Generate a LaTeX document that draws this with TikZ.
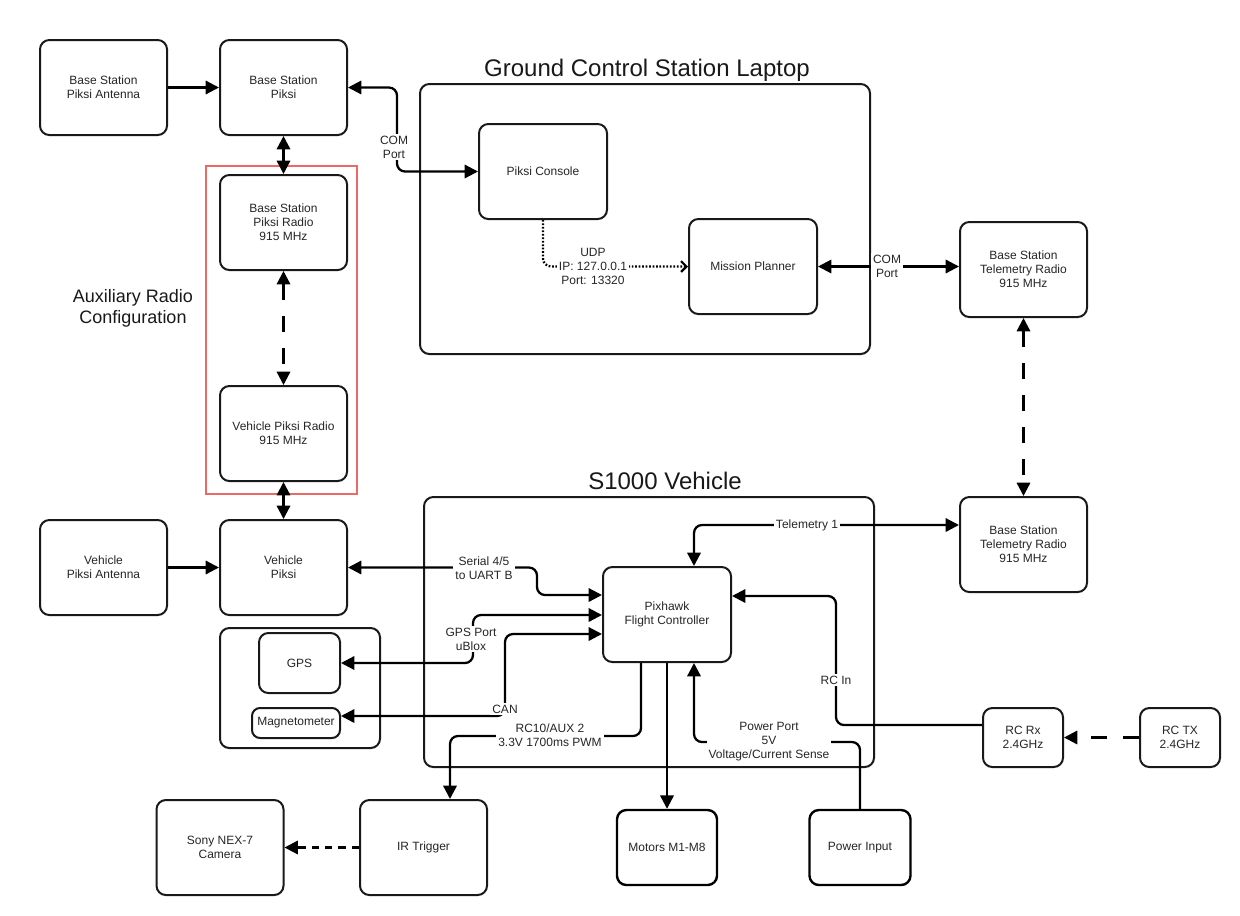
\documentclass[tikz,border=0pt]{standalone}
\usepackage{fontspec}
\setmainfont{Liberation Sans}
\usetikzlibrary{arrows.meta}
\definecolor{auxred}{HTML}{EA6B66}
\begin{document}
\begin{tikzpicture}[x=0.75pt,y=-0.75pt,
  >={Triangle[length=10pt,width=10pt]},
  box/.style={draw=black!90, line width=1.5pt, rounded corners=7pt, align=center,
    font=\fontsize{9}{10.5}\selectfont, text=black!85,
    minimum width=95.25pt, minimum height=71.25pt, inner sep=1pt},
  conn/.style={line width=1.7pt, draw=black, rounded corners=6pt},
  lbl/.style={fill=white, align=center, font=\fontsize{9}{10.5}\selectfont, text=black!85, inner sep=1.5pt},
  longdash/.style={dash pattern=on 12pt off 12pt},
  shortdash/.style={dash pattern=on 5.5pt off 4.5pt},
  dotline/.style={dash pattern=on 1.3pt off 1.3pt},
  frame/.style={draw=black!90, line width=1.5pt, rounded corners=7pt},
  title/.style={font=\fontsize{18}{21}\selectfont, text=black!90}
]
\useasboundingbox[fill=white] (0,0) rectangle (1240,915);

% frames
\draw[draw=auxred, line width=1.4pt] (206,166) rectangle (357,494);
\draw[frame] (420,84) rectangle (870,354);
\draw[frame] (424,497) rectangle (874,767);
\draw[frame] (220,628) rectangle (380,748);

% titles
\node[title] (gcst) at (647,70) {Ground Control Station Laptop};
\node[title] (s1kt) at (665,481) {S1000 Vehicle};
\node[font=\fontsize{13.5}{16}\selectfont, align=center, text=black!90] (auxt) at (133,308.5) {Auxiliary Radio\\Configuration};

% nodes
\node[box] (bsa) at (103.5,87.5) {Base Station\\Piksi Antenna};
\node[box] (bsp) at (283.5,87.5) {Base Station\\Piksi};
\node[box] (bsr) at (283.5,222.5) {Base Station\\Piksi Radio\\915 MHz};
\node[box] (vpr) at (283.5,433.5) {Vehicle Piksi Radio\\915 MHz};
\node[box] (vpa) at (103.5,567.5) {Vehicle\\Piksi Antenna};
\node[box] (vp) at (283.5,567.5) {Vehicle\\Piksi};
\node[box, minimum width=60.75pt, minimum height=45pt] (gps) at (299.5,663) {GPS};
\node[box, minimum width=66pt, minimum height=22.5pt, rounded corners=6pt] (mag) at (296,723) {Magnetometer};
\node[box, minimum width=96pt] (console) at (543,171.5) {Piksi Console};
\node[box, minimum width=96pt] (mp) at (753,266.5) {Mission Planner};
\node[box] (bst) at (1023.5,269.5) {Base Station\\Telemetry Radio\\915 MHz};
\node[box] (bsb) at (1023.5,544.5) {Base Station\\Telemetry Radio\\915 MHz};
\node[box, minimum width=96pt] (px) at (667,614.5) {Pixhawk\\Flight Controller};
\node[box, minimum width=60pt, minimum height=44.25pt] (rcrx) at (1023,737.5) {RC Rx\\2.4GHz};
\node[box, minimum width=60pt, minimum height=44.25pt] (rctx) at (1180,737.5) {RC TX\\2.4GHz};
\node[box] (cam) at (220,847.5) {Sony NEX-7\\Camera};
\node[box] (ir) at (423.5,847.5) {IR Trigger};
\node[box, minimum width=75pt, minimum height=56.25pt, draw=black, line width=1.8pt] (mot) at (667,847.5) {Motors M1-M8};
\node[box, minimum width=75.75pt, minimum height=56.25pt, draw=black, line width=1.8pt] (pin) at (860,847.5) {Power Input};

% bend coordinates
\coordinate (t1) at (694,525);
\coordinate (s1) at (537,595);
\coordinate (g1) at (473,615);
\coordinate (c1) at (505,634);
\coordinate (c2) at (505,716);
\coordinate (r1) at (641,736);
\coordinate (r2) at (450,736);
\coordinate (p1) at (694,742);
\coordinate (q1) at (836,725);
\coordinate (q2) at (836,596);

% connectors
\draw[conn,->] (bsa) -- (bsp);
\draw[conn,<->] (bsp) -- (bsr);
\draw[conn,<->,longdash] (bsr) -- (vpr);
\draw[conn,<->] (vpr) -- (vp);
\draw[conn,->] (vpa) -- (vp);
\draw[conn,<->] (bsp.east) -- ++(49,0) |- (console.west);
\draw[conn,dotline,-{Straight Barb[length=4pt,width=8pt]}] (console.south) |- (mp.west);
\draw[conn,<->] (mp.east) -- (mp.east -| bst.west);
\draw[conn,<->,longdash] (bst) -- (bsb);
\draw[conn,<->] (px.north -| t1) |- (t1 -| bsb.west);
\draw[conn,<->] (vp.east) -| (s1) -- (s1 -| px.west);
\draw[conn,<->] (g1 -| px.west) -- (g1) |- (gps.east);
\draw[conn,<->] (c1 -| px.west) -- (c1) -- (c2) -- (c2 -| mag.east);
\draw[conn,->] (r1 |- px.south) -- (r1) -- (r2) -- (r2 |- ir.north);
\draw[conn,->] (px) -- (mot);
\draw[conn,->] (pin.north) |- (p1) -- (p1 |- px.south);
\draw[conn,->] (q1 -| rcrx.west) -- (q1) -- (q2) -- (q2 -| px.east);
\draw[conn,->,longdash] (rctx) -- (rcrx);
\draw[conn,->,shortdash] (ir) -- (cam);

% labels
\node[lbl] (lcom1) at (394,147) {COM\\Port};
\node[lbl] (ludp) at (593,266.5) {UDP\\IP: 127.0.0.1\\Port: 13320};
\node[lbl] (lcom2) at (887,266.5) {COM\\Port};
\node[lbl] (ltel) at (807,525) {Telemetry 1};
\node[lbl] (lser) at (484,568) {Serial 4/5\\to UART B};
\node[lbl] (lgps) at (471,639) {GPS Port\\uBlox};
\node[lbl] (lcan) at (505,709) {CAN};
\node[lbl] (lrc10) at (550,735) {RC10/AUX 2\\3.3V 1700ms PWM};
\node[lbl] (lpow) at (769,742) {Power Port\\5V\\Voltage/Current Sense};
\node[lbl] (lrcin) at (836,680) {RC In};
\end{tikzpicture}
\end{document}
